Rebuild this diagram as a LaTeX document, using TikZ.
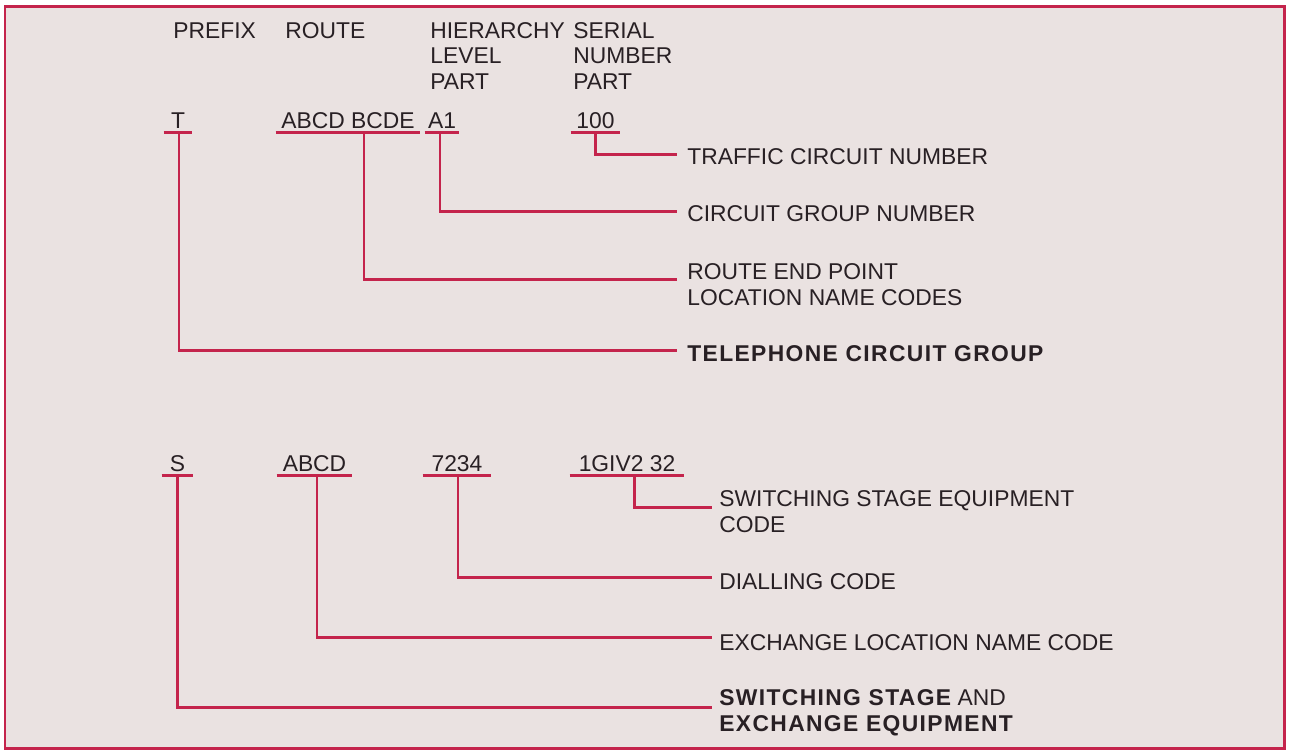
\documentclass[tikz,border=0pt]{standalone}
\usepackage{fontspec}
\setmainfont{Liberation Sans}
\usetikzlibrary{positioning}

\definecolor{redline}{RGB}{196,36,76}
\definecolor{paper}{RGB}{234,226,225}
\definecolor{ink}{RGB}{40,32,36}
\newlength{\px}\setlength{\px}{0.02cm}
\newcommand{\heavy}[1]{{\bfseries\addfontfeature{LetterSpace=6}#1}}

\begin{document}
\begin{tikzpicture}[
        x=0.02cm, y=-0.02cm,
        lead/.style={draw=redline, line width=1.7pt},
        hdr/.style={anchor=north west, inner sep=0pt, align=left, text=ink, font=\fontsize{13}{14.5}\selectfont},
        code/.style={anchor=south, inner xsep=0pt, inner ysep=3.5\px, text depth=0pt, text=ink, font=\fontsize{13}{15}\selectfont},
        lbl/.style={anchor=west, inner sep=0pt, align=left, text=ink, font=\fontsize{13}{14.8}\selectfont}
    ]
        \useasboundingbox (0,0) rectangle (1291,752);
        \fill[white] (0,0) rectangle (1291,752);
        \draw[lead, fill=paper] (5,6) rectangle (1284,748);

        % column heads
        \node[hdr] (pfxH) at (173,22) {PREFIX};
        \node[hdr] (rteH) at (285,22) {ROUTE};
        \node[hdr] (hlvH) at (430,22) {HIERARCHY\\LEVEL\\PART};
        \node[hdr] (snoH) at (573,22) {SERIAL\\NUMBER\\PART};

        % telephone circuit group code
        \node[code, minimum width=28\px] (pfxT) at (178,132) {T};
        \node[code, minimum width=144\px] (rteT) at (348,132) {ABCD BCDE};
        \node[code, minimum width=34\px] (hlvT) at (442,132) {A1};
        \node[code, minimum width=49\px] (snoT) at (595.5,132) {100};

        % switching stage code
        \node[code, minimum width=31\px] (pfxS) at (177.5,475) {S};
        \node[code, minimum width=75\px] (excS) at (314.5,475) {ABCD};
        \node[code, minimum width=68\px] (dialS) at (457,475) {7234};
        \node[code, minimum width=114\px] (sseS) at (627,475) {1GIV2 32};

        \foreach \c in {pfxT,rteT,hlvT,snoT,pfxS,excS,dialS,sseS}
            \draw[lead] (\c.south west) -- (\c.south east);

        \coordinate (trafE) at (677,154);
        \coordinate (cgrpE) at (677,211);
        \coordinate (rendE) at (677,279);
        \coordinate (tcgE) at (677,350);
        \coordinate (sseE) at (712,507);
        \coordinate (dialE) at (712,577);
        \coordinate (exlE) at (712,637);
        \coordinate (sseqE) at (712,707);

        \node[lbl, right=10\px of trafE, yshift=-2.5\px] (trafL) {TRAFFIC CIRCUIT NUMBER};
        \node[lbl, right=10\px of cgrpE, yshift=-3\px] (cgrpL) {CIRCUIT GROUP NUMBER};
        \node[lbl, right=10\px of rendE, yshift=-6\px] (rendL) {ROUTE END POINT\\LOCATION NAME CODES};
        \node[lbl, right=10\px of tcgE, yshift=-4\px] (tcgL) {\heavy{TELEPHONE CIRCUIT GROUP}};
        \node[lbl, right=7\px of sseE, yshift=-5\px] (sseL) {SWITCHING STAGE EQUIPMENT\\CODE};
        \node[lbl, right=7\px of dialE, yshift=-5\px] (dialL) {DIALLING CODE};
        \node[lbl, right=7\px of exlE, yshift=-6\px] (exlL) {EXCHANGE LOCATION NAME CODE};
        \node[lbl, right=7\px of sseqE, yshift=-5.5\px] (sseqL) {\heavy{SWITCHING STAGE} AND\\\heavy{EXCHANGE EQUIPMENT}};

        \draw[lead] (snoT.south) |- (trafE);
        \draw[lead] ([xshift=-2\px]hlvT.south) |- (cgrpE);
        \draw[lead] ([xshift=16\px]rteT.south) |- (rendE);
        \draw[lead] ([xshift=1\px]pfxT.south) |- (tcgE);
        \draw[lead] ([xshift=7\px]sseS.south) |- (sseE);
        \draw[lead] ([xshift=1\px]dialS.south) |- (dialE);
        \draw[lead] ([xshift=2.5\px]excS.south) |- (exlE);
        \draw[lead] (pfxS.south) |- (sseqE);
\end{tikzpicture}
\end{document}
